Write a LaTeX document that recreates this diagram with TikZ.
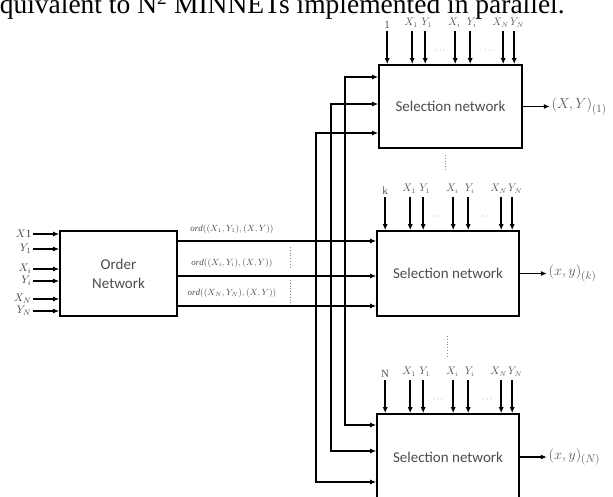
\documentclass[tikz,border=0pt]{standalone}
\usepackage{fontspec}
\setmainfont{Liberation Serif}
\newfontfamily\boxfont{Carlito}
\usetikzlibrary{arrows.meta}
\begin{document}
\begin{tikzpicture}[x=1pt,y=-1pt,
  line width=1.5pt,
  tipA/.tip={Latex[length=6pt,width=5pt]},
  arr/.style={-tipA},
  twoarr/.style={tipA-tipA},
  blk/.style={draw, line width=1.6pt, inner sep=0pt, font=\boxfont\fontsize{15}{19}\selectfont, text=black!70, align=center},
  lbl/.style={font=\fontsize{10.5}{10.5}\selectfont, text=black!65, inner sep=0pt},
  ordlbl/.style={font=\fontsize{9}{9}\selectfont, text=black!70, inner sep=0pt},
  outlbl/.style={font=\fontsize{15}{15}\selectfont, text=black!65, inner sep=0pt, anchor=west},
  ell/.style={dotted, line width=0.8pt, black!45}
]
\useasboundingbox (0,0) rectangle (613,497);
\clip (0,0) rectangle (613,497);

% partial caption line at the top
\node[anchor=base west, inner sep=0pt, font=\fontsize{27.5}{27.5}\selectfont] (cap) at (-1,13.5) {quivalent to N\textsuperscript{2} MINNETs implemented in parallel.};

% blocks
\node[blk, minimum width=117pt, minimum height=85pt] (order) at (118.5,273.5) {Order\\Network};
\node[blk, minimum width=143pt, minimum height=83pt] (sel1) at (450.5,106.5) {Selection network};
\node[blk, minimum width=142pt, minimum height=85pt] (sel2) at (448,273.5) {Selection network};
\node[blk, minimum width=142pt, minimum height=86pt] (sel3) at (448,457) {Selection network};

% inputs of the order network
\foreach \y/\t [count=\i] in {234/{$X$1}, 249/{$Y_1$}, 269/{$X_i$}, 281/{$Y_i$}, 299/{$X_N$}, 311/{$Y_N$}} {
  \coordinate (in\i) at (33,\y);
  \draw[arr] (in\i) -- (order.west |- in\i);
  \node[lbl, font=\fontsize{11}{11}\selectfont, text=black!75, anchor=east] (inl\i) at ([xshift=-1pt]in\i) {\t};
}

% outputs of the order network
\foreach \y [count=\i] in {241,276,306} {
  \coordinate (o\i) at (0,\y);
  \draw[arr] (order.east |- o\i) -- (sel2.west |- o\i);
}
\node[ordlbl] (ol1) at (232,229) {$\mathit{ord}((X_1,Y_1),(X,Y))$};
\node[ordlbl] (ol2) at (232,263) {$\mathit{ord}((X_i,Y_i),(X,Y))$};
\node[ordlbl] (ol3) at (232,293) {$\mathit{ord}((X_N,Y_N),(X,Y))$};
\draw[ell] (290,247) -- (290,268);
\draw[ell] (290,280) -- (290,305);

% bus lines to first and last selection networks
\coordinate (b1t) at (345,77);  \coordinate (b1b) at (345,425);
\coordinate (b2t) at (331,104); \coordinate (b2b) at (331,451);
\coordinate (b3t) at (316,133); \coordinate (b3b) at (316,482);
\draw[twoarr] (sel1.west |- b1t) -- (b1t) -- (b1b) -- (sel3.west |- b1b);
\draw[twoarr] (sel1.west |- b2t) -- (b2t) -- (b2b) -- (sel3.west |- b2b);
\draw[twoarr] (sel1.west |- b3t) -- (b3t) -- (b3b) -- (sel3.west |- b3b);

% top inputs of the selection networks
\foreach \b/\k in {sel1/1, sel2/k, sel3/N} {
  \foreach \o [count=\i] in {9,34,47,77,92,125,136} {
    \coordinate (\b-in\i) at ([xshift=\o pt, yshift=33pt]\b.north west);
    \draw[arr] (\b-in\i) -- (\b-in\i |- \b.north);
  }
  \node[lbl, font=\fontsize{11}{11}\selectfont, anchor=south] (\b-l1) at ([yshift=2pt]\b-in1) {\k};
  \node[lbl, anchor=south] (\b-l2) at ([xshift=-1pt, yshift=3pt]\b-in2) {$X_1$};
  \node[lbl, anchor=south] (\b-l3) at ([xshift=1.5pt, yshift=3pt]\b-in3) {$Y_1$};
  \node[lbl, anchor=south] (\b-l4) at ([xshift=-1pt, yshift=3pt]\b-in4) {$X_i$};
  \node[lbl, anchor=south] (\b-l5) at ([xshift=1.5pt, yshift=3pt]\b-in5) {$Y_i$};
  \node[lbl, anchor=south] (\b-l6) at ([xshift=-2.5pt, yshift=3pt]\b-in6) {$X_N$};
  \node[lbl, anchor=south] (\b-l7) at ([xshift=3pt, yshift=3pt]\b-in7) {$Y_N$};
  \node[lbl, font=\fontsize{8}{8}\selectfont] (\b-d1) at ([xshift=62pt, yshift=14pt]\b.north west) {$\cdots$};
  \node[lbl, font=\fontsize{8}{8}\selectfont] (\b-d2) at ([xshift=111pt, yshift=14pt]\b.north west) {$\cdots$};
}

% vertical ellipses between selection networks
\draw[ell] (445,155) -- (445,171);
\draw[ell] (447,336) -- (447,358);

% outputs
\foreach \b/\t in {sel1/{$(X,Y)_{(1)}$}, sel2/{$(x,y)_{(k)}$}, sel3/{$(x,y)_{(N)}$}} {
  \coordinate (\b-out) at ([xshift=27pt]\b.east);
  \draw[arr] (\b.east) -- (\b-out);
  \node[outlbl] (\b-lab) at ([xshift=1pt]\b-out) {\t};
}
\end{tikzpicture}
\end{document}
